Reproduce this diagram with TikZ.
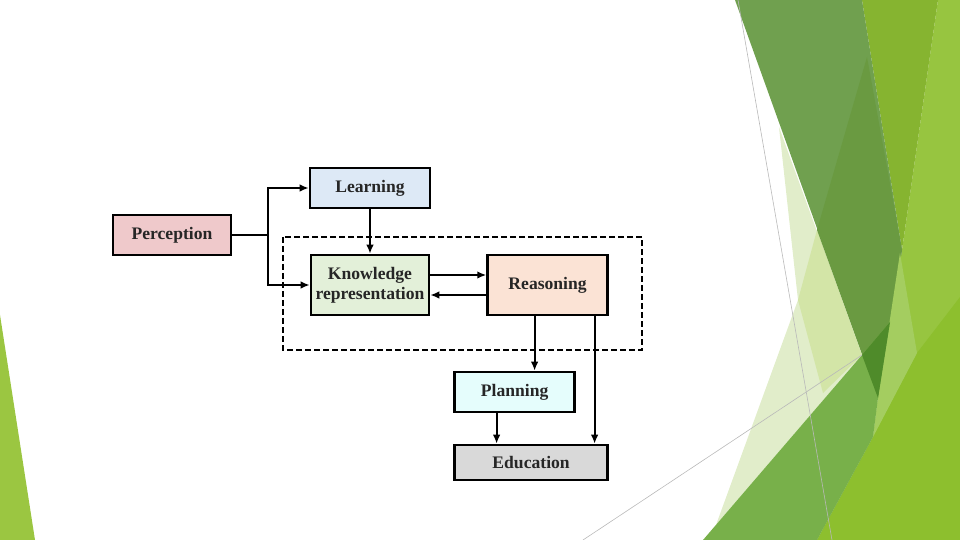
\documentclass[tikz,border=0pt]{standalone}
\usepackage{fontspec}
\setmainfont{Liberation Serif}
\usepackage{tikz}
\usetikzlibrary{arrows.meta, positioning, calc}

\definecolor{percfill}{HTML}{EFC9CB}
\definecolor{learnfill}{HTML}{DDE9F6}
\definecolor{kreprfill}{HTML}{E3F0D9}
\definecolor{reasfill}{HTML}{FBE3D5}
\definecolor{planfill}{HTML}{E5FDFC}
\definecolor{edufill}{HTML}{D9D9D9}
\definecolor{bandgreen}{HTML}{70A04F}
\definecolor{banddark}{HTML}{6A9A41}
\definecolor{olivegreen}{HTML}{86B430}
\definecolor{brightgreen}{HTML}{97C540}
\definecolor{brightlow}{HTML}{8DBF2E}
\definecolor{midgreen}{HTML}{78B04A}
\definecolor{deepgreen}{HTML}{4F8B2A}
\definecolor{palegreen}{HTML}{E1EDCA}
\definecolor{palegreenb}{HTML}{D3E5A7}
\definecolor{stripegreen}{HTML}{A4CD60}
\definecolor{slivergreen}{HTML}{9BC641}

\begin{document}
\begin{tikzpicture}[
  x=0.5pt, y=-0.5pt,
  line/.style={draw, -{Latex[length=4.5pt,width=3.8pt]}, line width=1pt},
  box/.style={rectangle, draw, line width=1.3pt, align=center, text=black!85,
              font=\bfseries\fontsize{8.8}{10}\selectfont,
              minimum width=60pt, minimum height=20pt, inner sep=1pt},
  bigbox/.style={box, minimum height=30pt},
  extbox/.style={draw, line width=0.8pt, dash pattern=on 3pt off 1.5pt},
  thin/.style={draw=gray!55, line width=0.3pt}
]
\useasboundingbox (0,0) rectangle (960,540);

% =======================================================
%                     SLIDE DECORATION
% =======================================================
\fill[slivergreen] (0,315) -- (35,540) -- (0,540) -- cycle;

\fill[palegreen] (779,127) -- (862,355) -- (716,525) -- (798,300) -- cycle;
\fill[palegreenb] (817,230) -- (862,355) -- (823,393) -- (798,300) -- cycle;
\fill[brightgreen] (938,0) -- (960,0) -- (960,540) -- (817,540) -- (873,437)
  -- (878,398) -- (902,250) -- cycle;
\fill[brightlow] (917,353) -- (960,297) -- (960,540) -- (817,540) -- (873,437) -- cycle;
\fill[olivegreen] (862,0) -- (938,0) -- (902,250) -- cycle;
\fill[bandgreen] (735,0) -- (862,0) -- (902,250) -- (878,398) -- cycle;
\fill[banddark] (867,57) -- (902,250) -- (878,398) -- (817,230) -- cycle;
\fill[stripegreen] (900,253) -- (917,353) -- (873,437) -- (878,398) -- cycle;
\fill[midgreen] (703,540) -- (862,355) -- (890,322) -- (878,398)
  -- (873,437) -- (817,540) -- cycle;
\fill[deepgreen] (862,355) -- (890,322) -- (878,398) -- cycle;

\draw[thin] (738,0) -- (832,540);
\draw[thin] (583,540) -- (862,355);

% =======================================================
%                     MAIN COMPONENTS
% =======================================================
\node[box, fill=percfill, minimum width=59pt] (perception) at (172,235) {Perception};
\node[box, fill=learnfill] (learning) at (370,188) {Learning};
\node[bigbox, fill=kreprfill, minimum width=59pt] (krepr) [below=22.2pt of learning]
  {Knowledge\\representation};
\node[bigbox, fill=reasfill] (reasoning) [right=28pt of krepr] {Reasoning};

\node[box, fill=planfill] (planning) [below=27.2pt of reasoning, xshift=-16.5pt] {Planning};
\node[box, fill=edufill, minimum width=76.5pt, minimum height=17.5pt] (education)
  [below=15.2pt of planning, xshift=8.25pt] {Education};

% dashed frame round knowledge + reasoning
\draw[extbox] (283,237) rectangle (642,350);

% =======================================================
%                     CONNECTIONS
% =======================================================

% Perception -> Learning / Knowledge representation
\coordinate (branch) at (268,235);
\draw[line width=1pt] (perception.east) -- (branch);
\draw[line] (branch) |- (learning.west);
\draw[line] (branch) |- (krepr.west);

% Learning -> Knowledge representation
\draw[line] (learning.south) -- (learning.south |- krepr.north);

% Knowledge representation <-> Reasoning
\draw[line] ([yshift=5pt]krepr.east) -- ([yshift=5pt]reasoning.west);
\draw[line] ([yshift=-5pt]reasoning.west) -- ([yshift=-5pt]krepr.east);

% Reasoning -> Planning, Reasoning -> Education
\draw[line] ([xshift=-6.5pt]reasoning.south) -- ([xshift=-6.5pt]reasoning.south |- planning.north);
\draw[line] ([xshift=23.5pt]reasoning.south) -- ([xshift=23.5pt]reasoning.south |- education.north);

% Planning -> Education
\draw[line] ([xshift=-9pt]planning.south) -- ([xshift=-9pt]planning.south |- education.north);

\end{tikzpicture}
\end{document}
